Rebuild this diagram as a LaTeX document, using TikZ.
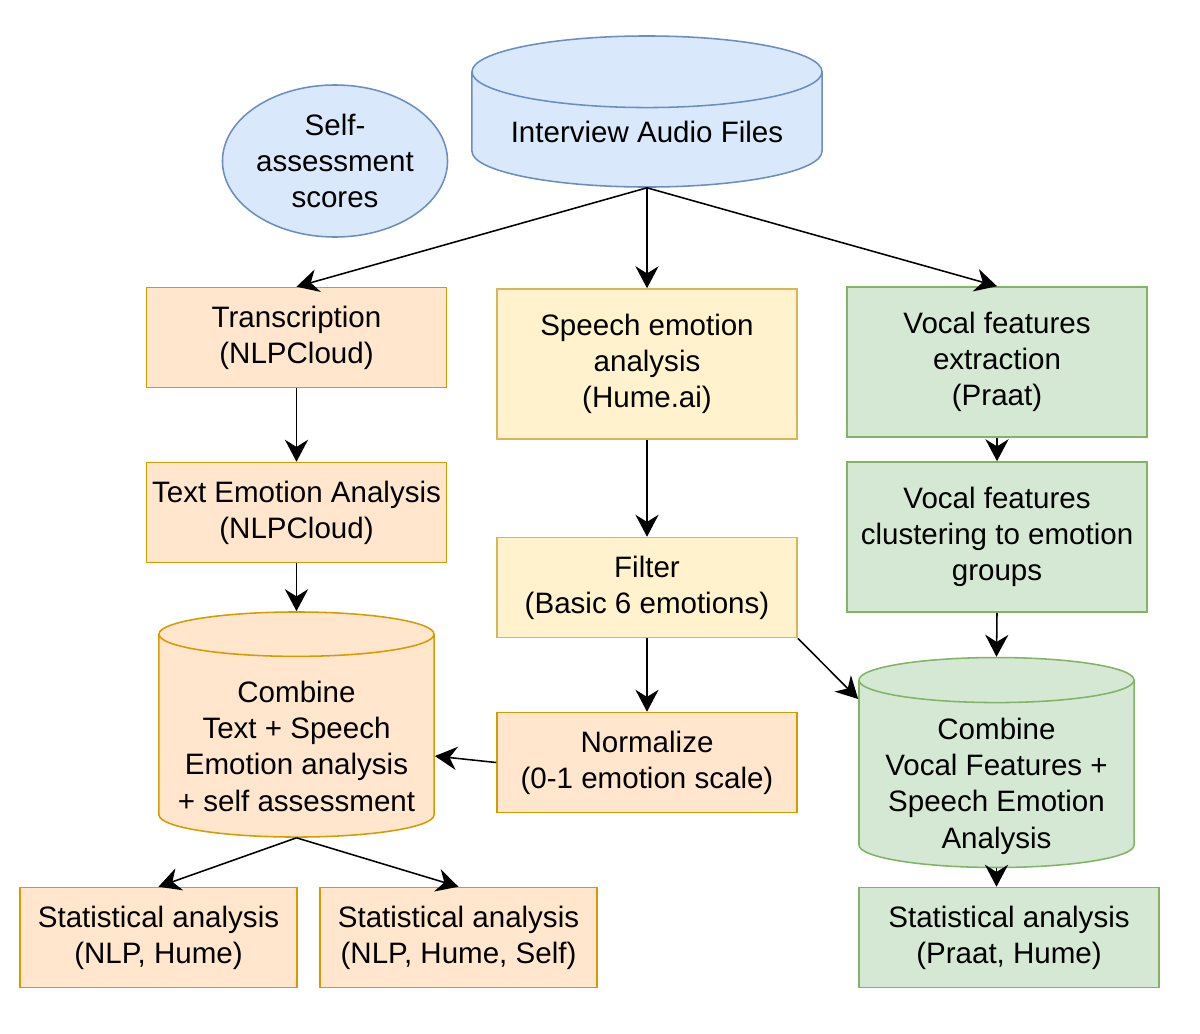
\documentclass[tikz,border=0pt]{standalone}
\usepackage{fontspec}
\setmainfont{Liberation Sans}
\usetikzlibrary{shapes.geometric, arrows.meta}

\definecolor{bluefill}{HTML}{DAE8FC}
\definecolor{blueline}{HTML}{6C8EBF}
\definecolor{orfill}{HTML}{FFE6CC}
\definecolor{orline}{HTML}{D79B00}
\definecolor{yefill}{HTML}{FFF2CC}
\definecolor{yeline}{HTML}{D6B656}
\definecolor{grfill}{HTML}{D5E8D4}
\definecolor{grline}{HTML}{82B366}

\begin{document}
\begin{tikzpicture}[x=0.025cm, y=-0.025cm,
    font=\fontsize{21}{25.8}\selectfont,
    box/.style = {draw, rectangle, line width=1.1pt, minimum width=7.5cm, minimum height=2.5cm, align=center, inner sep=1pt},
    tall/.style = {minimum height=3.75cm},
    orangebox/.style = {box, fill=orfill, draw=orline},
    yellowbox/.style = {box, fill=yefill, draw=yeline},
    greenbox/.style = {box, fill=grfill, draw=grline},
    db/.style = {draw, cylinder, shape border rotate=90, line width=1.1pt, align=center, inner sep=1pt},
    link/.style = {-{Stealth[length=0.55cm, width=0.58cm, inset=0.18cm]}, line width=1.1pt}]
    \useasboundingbox (0,0) rectangle (1200,1033);

    % sources
    \node[db, fill=bluefill, draw=blueline, aspect=0.26, minimum width=8.75cm, minimum height=3.775cm, anchor=shape center] (audio) at (647,111.5) {Interview Audio Files};
    \node[ellipse, draw=blueline, fill=bluefill, line width=1.1pt, minimum width=5.625cm, minimum height=3.8cm, align=center, inner sep=0pt] (self) at (335,161) {Self-\\assessment\\scores};

    % three branches
    \node[orangebox] (trans) at (296.5,337.5) {Transcription\\(NLPCloud)};
    \node[yellowbox, tall] (speech) at (647,364) {Speech emotion\\analysis\\(Hume.ai)};
    \node[greenbox, tall] (vocal) at (997,362) {Vocal features\\extraction\\(Praat)};

    \node[orangebox] (textemo) at (296.5,512.5) {Text Emotion Analysis\\(NLPCloud)};
    \node[yellowbox] (filter) at (647,587.5) {Filter\\(Basic 6 emotions)};
    \node[greenbox, tall] (cluster) at (997,537) {Vocal features\\clustering to emotion\\groups};
    \node[orangebox] (norm) at (647,762.5) {Normalize\\(0-1 emotion scale)};

    % combining stores (the rule pushes the text below the lid)
    \node[db, fill=orfill, draw=orline, aspect=0.185, minimum width=6.875cm, minimum height=5.625cm, anchor=shape center] (combo) at (296.5,724.5) {\rule{0pt}{27.5pt}Combine\\Text + Speech\\Emotion analysis\\+ self assessment};
    \node[db, fill=grfill, draw=grline, aspect=0.2, inner ysep=0pt, minimum width=6.875cm, minimum height=5.025cm, anchor=shape center] (combg) at (996.5,762.5) {\rule{0pt}{25.6pt}Combine\\Vocal Features +\\Speech Emotion\\\smash{Analysis}};

    % results
    \node[orangebox, minimum width=6.925cm] (stat1) at (158.5,937.5) {Statistical analysis\\(NLP, Hume)};
    \node[orangebox, minimum width=6.925cm] (stat2) at (458.5,937.5) {Statistical analysis\\(NLP, Hume, Self)};
    \node[greenbox] (stat3) at (1009,937.5) {Statistical analysis\\(Praat, Hume)};

    \draw[link] (audio.south) -- (trans.north);
    \draw[link] (audio.south) -- (speech.north);
    \draw[link] (audio.south) -- (vocal.north);
    \draw[link] (trans) -- (textemo);
    \draw[link] (textemo.south) -- (combo.north);
    \draw[link] (speech) -- (filter);
    \draw[link] (filter) -- (norm);
    \draw[link] (filter.south east) -- (combg.west |- 0,699);
    \draw[link] (vocal) -- (cluster);
    \draw[link] (cluster.south) -- (combg.north);
    \draw[link] (norm.west) -- (combo.east |- 0,756);
    \draw[link] (combo.south) -- (stat1.north);
    \draw[link] (combo.south) -- (stat2.north);
    \draw[link] (combg.south) -- (combg.south |- stat3.north);
\end{tikzpicture}
\end{document}
